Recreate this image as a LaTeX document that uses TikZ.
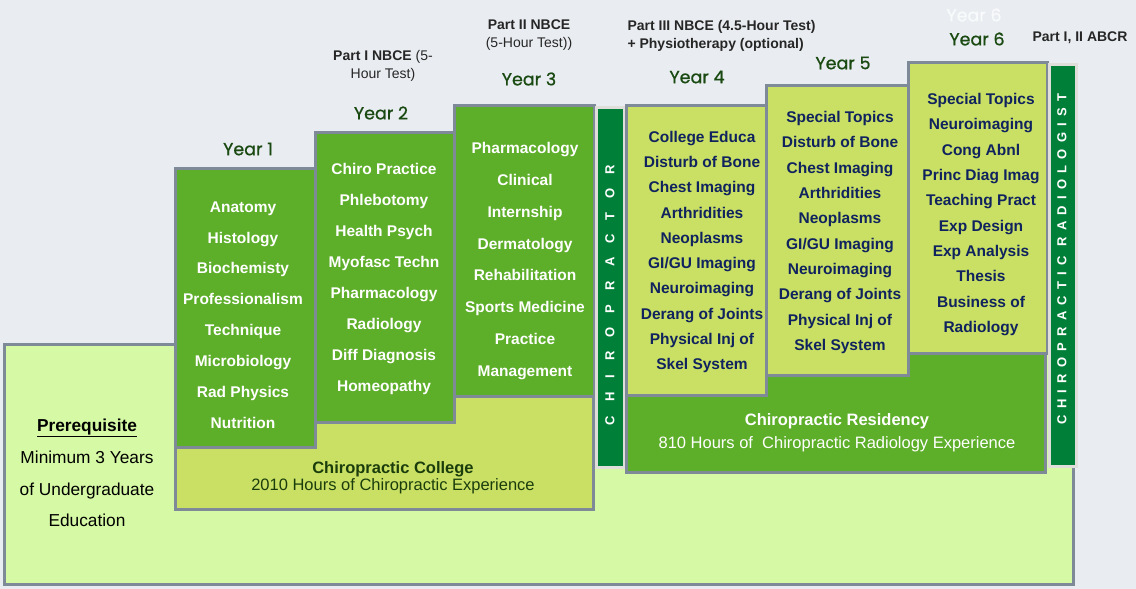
\documentclass[tikz,border=0pt]{standalone}
\usepackage{fontspec}
\setmainfont{Liberation Sans}
\newfontfamily\yearfont{Poppins}[FakeBold=0.8]
\newfontfamily\chirofont{Liberation Sans}[LetterSpace=108]
\newfontfamily\radfont{Liberation Sans}[LetterSpace=48]
\usetikzlibrary{positioning}

\definecolor{bgGrey}{HTML}{E9EDF1}
\definecolor{preGreen}{HTML}{D5F9A4}
\definecolor{midGreen}{HTML}{5DAE29}
\definecolor{limeGreen}{HTML}{C9E064}
\definecolor{barGreen}{HTML}{007F38}
\definecolor{edgeGrey}{HTML}{7E8A98}
\definecolor{frameGrey}{HTML}{E0DEDB}
\definecolor{navy}{HTML}{10235E}
\definecolor{yearGreen}{HTML}{1A4A12}
\definecolor{collegeText}{HTML}{1B3D0C}

\tikzstyle{box}=[shape=rectangle,
                 draw=edgeGrey,
                 line width=3pt,
                 inner sep=0pt]
\tikzstyle{gbox}=[box, fill=midGreen]
\tikzstyle{lbox}=[box, fill=limeGreen]
\tikzstyle{bar}=[shape=rectangle,
                 draw=frameGrey,
                 fill=barGreen,
                 line width=3pt,
                 inner sep=0pt]
\tikzstyle{yr}=[text=yearGreen,
                font=\yearfont\fontsize{17.5}{20}\selectfont]
\tikzstyle{exam}=[align=center,
                  text=black!85,
                  font=\fontsize{14}{18.5}\selectfont]

\begin{document}
\begin{tikzpicture}[x=1pt,y=-1pt]
\useasboundingbox[fill=bgGrey] (0,0) rectangle (1136,589);

% base blocks
\node[box, fill=preGreen, minimum width=1069pt, minimum height=240pt] (prereq) at (538.5,464) {};
\node[lbox, minimum width=418pt, minimum height=114pt] (college) at (384,452) {};

% years 1 to 3
\node[gbox, minimum width=140pt, minimum height=279pt] (y1box) at (245,307.5) {};
\node[gbox, minimum width=139pt, minimum height=290pt] (y2box) at (384.5,277) {};
\node[gbox, minimum width=140pt, minimum height=291pt] (y3box) at (524,250.5) {};
\node[bar, minimum width=28pt, minimum height=360pt] (chirobar) at (610,287) {};

% residency and years 4 to 6
\node[gbox, minimum width=419pt, minimum height=120pt] (resid) at (835.5,412) {};
\node[lbox, minimum width=140pt, minimum height=290pt] (y4box) at (696,250) {};
\node[lbox, minimum width=142pt, minimum height=290pt] (y5box) at (837,230) {};
\node[lbox, minimum width=139pt, minimum height=291pt] (y6box) at (977.5,207.5) {};
\node[bar, minimum width=27pt, minimum height=402pt] (radbar) at (1062.5,265) {};

% block texts
\node[align=center, text=black, font=\fontsize{17.3}{31.7}\selectfont] (prereqtxt) at (87,473)
  {\underline{\textbf{Prerequisite}}\\Minimum 3 Years\\of Undergraduate\\Education};
\node[align=center, text=collegeText, font=\fontsize{16.5}{17.5}\selectfont] (collegetxt) at (393,477.5)
  {\textbf{Chiropractic College}\\2010 Hours of Chiropractic Experience};
\node[align=center, text=white, font=\fontsize{16.5}{23}\selectfont] (residtxt) at (837,433)
  {\textbf{Chiropractic Residency}\\810 Hours of\ \ Chiropractic Radiology Experience};

% course lists
\node[align=center, text=white, font=\bfseries\fontsize{15.5}{30.9}\selectfont] (y1list) at (243,315)
  {Anatomy\\Histology\\Biochemisty\\Professionalism\\Technique\\Microbiology\\Rad Physics\\Nutrition};
\node[align=center, text=white, font=\bfseries\fontsize{15.5}{30.9}\selectfont] (y2list) at (384,279)
  {Chiro Practice\\Phlebotomy\\Health Psych\\Myofasc Techn\\Pharmacology\\Radiology\\Diff Diagnosis\\Homeopathy};
\node[align=center, text=white, font=\bfseries\fontsize{15.5}{31.9}\selectfont] (y3list) at (525,261)
  {Pharmacology\\Clinical\\Internship\\Dermatology\\Rehabilitation\\Sports Medicine\\Practice\\Management};
\node[align=center, text=navy, font=\bfseries\fontsize{15.5}{25.3}\selectfont] (y4list) at (702,252)
  {College Educa\\Disturb of Bone\\Chest Imaging\\Arthridities\\Neoplasms\\GI/GU Imaging\\Neuroimaging\\Derang of Joints\\Physical Inj of\\Skel System};
\node[align=center, text=navy, font=\bfseries\fontsize{15.5}{25.3}\selectfont] (y5list) at (840,232.5)
  {Special Topics\\Disturb of Bone\\Chest Imaging\\Arthridities\\Neoplasms\\GI/GU Imaging\\Neuroimaging\\Derang of Joints\\Physical Inj of\\Skel System};
\node[align=center, text=navy, font=\bfseries\fontsize{15.5}{25.3}\selectfont] (y6list) at (981,214.5)
  {Special Topics\\Neuroimaging\\Cong Abnl\\Princ Diag Imag\\Teaching Pract\\Exp Design\\Exp Analysis\\Thesis\\Business of\\Radiology};

% vertical titles
\node[rotate=90, text=white, font=\chirofont\bfseries\fontsize{13}{14}\selectfont] (chirotxt) at (610,295) {CHIROPRACTOR};
\node[rotate=90, text=white, font=\radfont\bfseries\fontsize{13}{14}\selectfont] (radtxt) at (1062,259) {CHIROPRACTIC RADIOLOGIST};

% year labels
\node[yr] (yr1) at (248,149) {Year 1};
\node[yr] (yr2) at (381,113) {Year 2};
\node[yr] (yr3) at (529,79) {Year 3};
\node[yr] (yr4) at (697,77) {Year 4};
\node[yr] (yr5) at (843,63) {Year 5};
\node[yr] (yr6) at (977,39) {Year 6};
\node[yr, text=white!70!bgGrey] (yr6ghost) at (974,15) {Year 6};

% board exams
\node[exam] (nbce1) at (383,66) {\textbf{Part I NBCE} (5-\\Hour Test)};
\node[exam] (nbce2) at (529,35) {\textbf{Part II NBCE}\\(5-Hour Test))};
\node[exam, align=left, anchor=west] (nbce3) at (624,36) {\textbf{Part III NBCE (4.5-Hour Test)}\\\textbf{+ Physiotherapy (optional)}};
\node[exam] (abcr) at (1080,38) {\textbf{Part I, II ABCR}};

\end{tikzpicture}
\end{document}
